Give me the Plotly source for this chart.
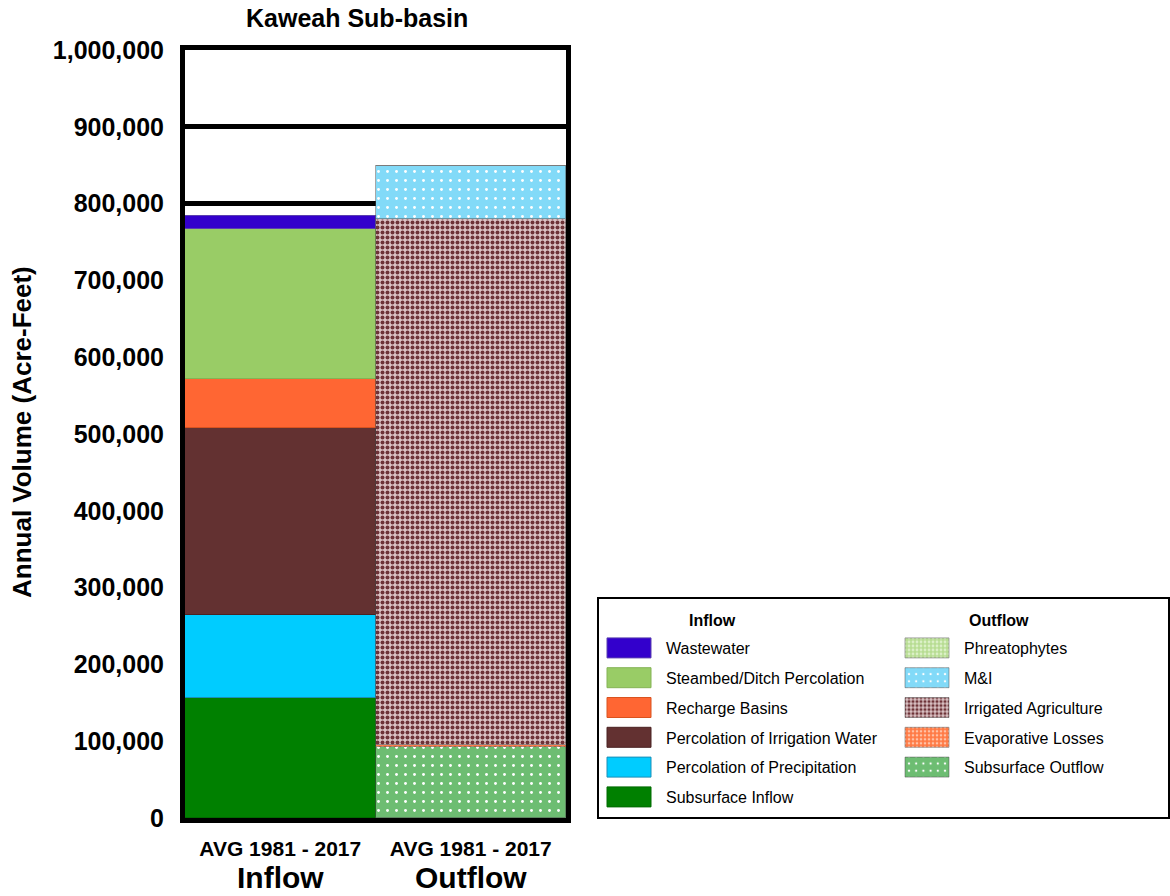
import plotly.graph_objects as go

# Annual water budget, Kaweah Sub-basin, average 1981 - 2017 (acre-feet)
inflow_labels = [
    "Subsurface Inflow",
    "Percolation of Precipitation",
    "Percolation of Irrigation Water",
    "Recharge Basins",
    "Steambed/Ditch Percolation",
    "Wastewater",
]
inflow_values = [156000, 108000, 244000, 63000, 196000, 17500]

outflow_labels = [
    "Subsurface Outflow",
    "Evaporative Losses",
    "Irrigated Agriculture",
    "M&I",
    "Phreatophytes",
]
outflow_values = [92000, 2500, 685500, 69500, 0]

categories = ["Inflow", "Outflow"]
period_label = "AVG 1981 - 2017"
y_ticks = list(range(0, 1000001, 100000))

FONT = "Liberation Sans, Arial, sans-serif"
W, H = 1170, 896
ML, MR, MT, MB = 185, 604, 50, 78
PW, PH = W - ML - MR, H - MT - MB


def px_x(px):
    return (px - ML) / PW


def px_y(py):
    return (H - MB - py) / PH


inflow_style = {
    "Subsurface Inflow": ("#008000", "#006a00"),
    "Percolation of Precipitation": ("#00ccff", "#1a8fb8"),
    "Percolation of Irrigation Water": ("#633131", "#4a2222"),
    "Recharge Basins": ("#ff6633", "#d9531f"),
    "Steambed/Ditch Percolation": ("#99cc66", "#84b355"),
    "Wastewater": ("#3300cc", "#5a3fb0"),
}

outflow_style = {
    "Subsurface Outflow": dict(bg="#6dbd72", fg="#ffffff", shape=".", size=9, solidity=0.08),
    "Evaporative Losses": dict(bg="#ff7a45", fg="#ffc2a6", shape=".", size=5, solidity=0.35),
    "Irrigated Agriculture": dict(bg="#dbc3c5", fg="#6e3338", shape=".", size=5, solidity=0.5),
    "M&I": dict(bg="#82daf8", fg="#ffffff", shape=".", size=9, solidity=0.08),
    "Phreatophytes": dict(bg="#b7dd92", fg="#dcf0c8", shape=".", size=5, solidity=0.4),
}

fig = go.Figure()

# Stacked from the bottom up; legend lists the top segment first
n_in = len(inflow_labels)
for i, (name, val) in enumerate(zip(inflow_labels, inflow_values)):
    color, edge = inflow_style[name]
    fig.add_trace(go.Bar(
        x=["Inflow"], y=[val], name=name,
        legend="legend", legendgroup=name, legendrank=n_in - i,
        marker=dict(color=color, line=dict(color=edge, width=1)),
        hovertemplate="%{y:,}<extra>" + name + "</extra>",
    ))

n_out = len(outflow_labels)
for i, (name, val) in enumerate(zip(outflow_labels, outflow_values)):
    st = outflow_style[name]
    fig.add_trace(go.Bar(
        x=["Outflow"], y=[val], name=name,
        legend="legend2", legendgroup=name, legendrank=n_out - i,
        marker=dict(
            color=st["bg"],
            line=dict(color="rgba(80,80,80,0.5)", width=1),
            pattern=dict(shape=st["shape"], fgcolor=st["fg"], bgcolor=st["bg"],
                         size=st["size"], solidity=st["solidity"], fillmode="replace"),
        ),
        hovertemplate="%{y:,}<extra>" + name + "</extra>",
    ))

legend_common = dict(
    xref="container", yref="container",
    xanchor="left", yanchor="top",
    font=dict(family=FONT, size=16, color="#000000"),
    bgcolor="rgba(0,0,0,0)", borderwidth=0,
    traceorder="grouped", tracegroupgap=6,
    itemwidth=64, itemclick=False, itemdoubleclick=False,
)

fig.update_layout(
    width=W, height=H,
    margin=dict(l=ML, r=MR, t=MT, b=MB),
    paper_bgcolor="white", plot_bgcolor="white",
    barmode="stack", bargap=0,
    font=dict(family=FONT, color="#000000"),
    showlegend=True,
    legend=dict(legend_common, x=592 / W, y=1 - 631 / H),
    legend2=dict(legend_common, x=890 / W, y=1 - 631 / H),
    xaxis=dict(
        categoryorder="array", categoryarray=categories,
        tickvals=categories, ticktext=[period_label, period_label],
        tickfont=dict(family=FONT, size=21, weight="bold", color="#000000"),
        ticks="", ticklabelstandoff=8,
        showline=True, mirror=True, linecolor="#000000", linewidth=5,
        showgrid=False, zeroline=False,
    ),
    yaxis=dict(
        range=[0, 1000000], tickvals=y_ticks, tickformat=",d",
        tickfont=dict(family=FONT, size=25, weight="bold", color="#000000"),
        ticks="", ticklabelstandoff=11,
        showline=True, mirror=True, linecolor="#000000", linewidth=5,
        showgrid=True, gridcolor="#000000", gridwidth=5,
        zeroline=False,
    ),
)

# Chart title and axis title
fig.add_annotation(
    text="<b>Kaweah Sub-basin</b>", xref="paper", yref="paper",
    x=px_x(357), y=px_y(18), xanchor="center", yanchor="middle",
    showarrow=False, font=dict(family=FONT, size=25, color="#000000"),
)
fig.add_annotation(
    text="<b>Annual Volume (Acre-Feet)</b>", xref="paper", yref="paper",
    x=px_x(22), y=px_y(432), xanchor="center", yanchor="middle",
    textangle=-90, showarrow=False, font=dict(family=FONT, size=26, color="#000000"),
)

# Large category captions under the period labels
for cat in categories:
    fig.add_annotation(
        text="<b>" + cat + "</b>", xref="x", yref="paper",
        x=cat, y=px_y(895), xanchor="center", yanchor="bottom",
        borderpad=0, showarrow=False,
        font=dict(family=FONT, size=30, color="#000000"),
    )

# Legend frame and column headers
fig.add_shape(
    type="rect", xref="paper", yref="paper",
    x0=px_x(598), x1=px_x(1169), y0=px_y(598), y1=px_y(818),
    line=dict(color="#000000", width=2), fillcolor="rgba(0,0,0,0)", layer="above",
)
for text, left in [("Inflow", 687), ("Outflow", 967)]:
    fig.add_annotation(
        text="<b>" + text + "</b>", xref="paper", yref="paper",
        x=px_x(left), y=px_y(620), xanchor="left", yanchor="middle",
        showarrow=False, font=dict(family=FONT, size=16, color="#000000"),
    )

# Widen the legend swatches into rectangular keys (pattern left unscaled)
post_js = """
var gd = document.getElementById('{plot_id}');
function widenKeys() {
  gd.querySelectorAll('.legendpoints path').forEach(function (p) {
    p.setAttribute('d', 'M22,10H-22V-10H22Z');
  });
}
widenKeys();
if (gd.on) { gd.on('plotly_afterplot', widenKeys); }
"""

fig.write_html("out.html", post_script=post_js)
